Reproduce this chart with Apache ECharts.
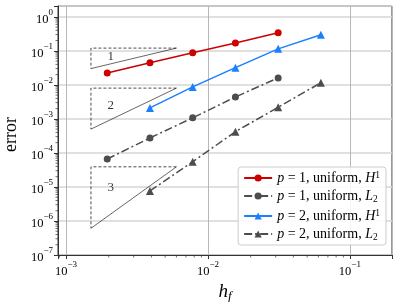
<!DOCTYPE html>
<html>
<head>
<meta charset="utf-8">
<script src="https://cdn.jsdelivr.net/npm/echarts@6/dist/echarts.min.js"></script>
<style>html,body{margin:0;padding:0;background:#fff}#c{width:399px;height:302px}</style>
</head>
<body>
<div id="c"></div>
<script>
// ---- data ----
var hP1 = [1/512, 1/256, 1/128, 1/64, 1/32];
var hP2 = [1/256, 1/128, 1/64, 1/32, 1/16];
var p1H1 = [0.0224, 0.0445, 0.087, 0.17, 0.34];
var p1L2 = [6.6e-5, 2.75e-4, 1.07e-3, 4.4e-3, 0.016];
var p2H1 = [2.1e-3, 8.7e-3, 0.032, 0.114, 0.295];
var p2L2 = [7.6e-6, 5.5e-5, 4.2e-4, 2.2e-3, 0.0115];
var seriesNames = ['p = 1, uniform, H1', 'p = 1, uniform, L2', 'p = 2, uniform, H1', 'p = 2, uniform, L2'];
// slope triangles: [x left, x right, y top, y bottom], labels
var triX = [1.5e-3, 6e-3];
var triTop = [0.12, 8e-3, 3.9e-5];
var triBottom = [0.03, 5e-4, 6.1e-7];
var triLabels = ['1', '2', '3'];
var triLabelPos = [[2.07e-3, 0.066], [2.07e-3, 2.4e-3], [2.07e-3, 9.3e-6]];
var xMin = 8.79e-4, xMax = 0.198, yMin = 1e-7, yMax = 2.07;
var xMinorTicks = [], yMinorTicks = [];
(function(){
  for (var e = -4; e <= 0; e++) for (var m = 2; m <= 9; m++) {
    var v = m * Math.pow(10, e);
    if (v > xMin && v < xMax) xMinorTicks.push(v);
  }
  for (var e2 = -7; e2 <= 0; e2++) for (var m2 = 2; m2 <= 9; m2++) {
    var w = m2 * Math.pow(10, e2);
    if (w > yMin && w < yMax) yMinorTicks.push(w);
  }
})();

var SERIF = '"Liberation Serif","DejaVu Serif",serif';
var GRAY = '#4d4d4d';

function zip(xs, ys) { return xs.map(function (x, i) { return [x, ys[i]]; }); }
function powLabel(v) {
  var e = Math.log10(v);
  var r = Math.round(e);
  if (Math.abs(e - r) > 1e-6) return '';
  return '{b|10}{s|' + (r < 0 ? '\u2212' + (-r) : r) + '}';
}
var tickRich = {
  b: {fontFamily: SERIF, fontSize: 12.5, color: '#000', lineHeight: 18, verticalAlign: 'bottom'},
  s: {fontFamily: SERIF, fontSize: 9, color: '#000', lineHeight: 10, verticalAlign: 'top'}
};

var series = [];
var styles = [
  {data: zip(hP1, p1H1), color: '#cc0000', symbol: 'circle', size: 7, type: 'solid'},
  {data: zip(hP1, p1L2), color: GRAY, symbol: 'circle', size: 7, type: [8, 3, 2, 3]},
  {data: zip(hP2, p2H1), color: '#1a80ff', symbol: 'triangle', size: 8, type: 'solid'},
  {data: zip(hP2, p2L2), color: GRAY, symbol: 'triangle', size: 8, type: [8, 3, 2, 3]}
];
styles.forEach(function (s, i) {
  series.push({
    name: seriesNames[i], type: 'line', data: s.data, symbol: s.symbol, symbolSize: s.size,
    showSymbol: true, z: 5,
    lineStyle: {color: s.color, width: 1.5, type: s.type},
    itemStyle: {color: s.color}
  });
});
// slope triangles
for (var t = 0; t < 3; t++) {
  series.push({
    type: 'line', silent: true, symbol: 'none', z: 3,
    data: [[triX[1], triTop[t]], [triX[0], triTop[t]], [triX[0], triBottom[t]]],
    lineStyle: {color: '#000', width: 0.7, type: [3, 2]}
  });
  series.push({
    type: 'line', silent: true, symbol: 'none', z: 3,
    data: [[triX[0], triBottom[t]], [triX[1], triTop[t]]],
    lineStyle: {color: '#000', width: 0.6}
  });
}
series.push({
  type: 'scatter', silent: true, symbolSize: 0, z: 4,
  data: triLabelPos.map(function (p, i) { return {value: p, label: {formatter: triLabels[i]}}; }),
  label: {show: true, position: 'inside', fontFamily: SERIF, fontSize: 13, color: '#000'}
});
// minor ticks
series.push({
  type: 'custom', silent: true, clip: false, z: 10,
  data: xMinorTicks.map(function (v) { return [v, yMin]; }),
  renderItem: function (params, api) {
    var p = api.coord([api.value(0), api.value(1)]);
    return {type: 'line', shape: {x1: p[0], y1: p[1], x2: p[0], y2: p[1] + 2.5},
      style: {stroke: '#333', lineWidth: 0.7}};
  }
});
series.push({
  type: 'custom', silent: true, clip: false, z: 10,
  data: yMinorTicks.map(function (v) { return [xMin, v]; }),
  renderItem: function (params, api) {
    var p = api.coord([api.value(0), api.value(1)]);
    return {type: 'line', shape: {x1: p[0], y1: p[1], x2: p[0] - 2.5, y2: p[1]},
      style: {stroke: '#333', lineWidth: 0.7}};
  }
});

var chart = echarts.init(document.getElementById('c'), null, {renderer: 'canvas'});
chart.setOption({
  animation: false,
  backgroundColor: '#fff',
  grid: {left: 58, right: 7, top: 6, bottom: 47, containLabel: false, outerBoundsMode: 'none',
    show: true, borderColor: '#333', borderWidth: 1, backgroundColor: 'transparent'},
  xAxis: {
    type: 'log', logBase: 10, min: xMin, max: xMax, splitNumber: 3,
    axisLine: {show: true, lineStyle: {color: '#333', width: 1}},
    axisTick: {show: true, length: 4, lineStyle: {color: '#333'}},
    axisLabel: {formatter: powLabel, rich: tickRich, margin: 5, showMinLabel: true, showMaxLabel: true},
    splitLine: {show: true, lineStyle: {color: '#b8b8b8', width: 1}},
    name: '{i|h}{f|f}', nameLocation: 'middle', nameGap: 24,
    nameTextStyle: {rich: {
      i: {fontFamily: SERIF, fontStyle: 'italic', fontSize: 19, color: '#000', lineHeight: 20, verticalAlign: 'top'},
      f: {fontFamily: SERIF, fontStyle: 'italic', fontSize: 13, color: '#000', lineHeight: 14, verticalAlign: 'bottom'}
    }}
  },
  yAxis: {
    type: 'log', logBase: 10, min: yMin, max: yMax, splitNumber: 8,
    axisLine: {show: true, lineStyle: {color: '#333', width: 1}},
    axisTick: {show: true, length: 4, lineStyle: {color: '#333'}},
    axisLabel: {formatter: powLabel, rich: tickRich, margin: 5},
    splitLine: {show: true, lineStyle: {color: '#d6d6d6', width: 1.5}},
    name: 'error', nameLocation: 'middle', nameGap: 30, nameRotate: 90,
    nameTextStyle: {fontFamily: SERIF, fontSize: 18, color: '#000', padding: [0, 8, 0, 0]}
  },
  legend: {
    data: seriesNames, orient: 'vertical', right: 13, top: 167,
    itemWidth: 28, itemHeight: 9, itemGap: 4,
    padding: [3, 6, 3, 5],
    backgroundColor: 'rgba(255,255,255,0.85)', borderColor: '#cccccc', borderWidth: 1, borderRadius: 3,
    formatter: function (name) {
      var p = name.charAt(4);
      var tail = name.slice(-2);
      var t = tail.charAt(0), n = tail.charAt(1);
      return '{i|p}{r| = ' + p + ', uniform, }{i|' + t + '}' + (t === 'H' ? '{sup|' + n + '}' : '{sub|' + n + '}');
    },
    textStyle: {fontFamily: SERIF, fontSize: 14, color: '#000', rich: {
      r: {fontFamily: SERIF, fontSize: 14, color: '#000', lineHeight: 16},
      i: {fontFamily: SERIF, fontStyle: 'italic', fontSize: 14, color: '#000', lineHeight: 16},
      sup: {fontFamily: SERIF, fontSize: 9.5, color: '#000', lineHeight: 10, verticalAlign: 'top'},
      sub: {fontFamily: SERIF, fontSize: 9.5, color: '#000', lineHeight: 10, verticalAlign: 'bottom'}
    }}
  },
  series: series
});
</script>
</body>
</html>
